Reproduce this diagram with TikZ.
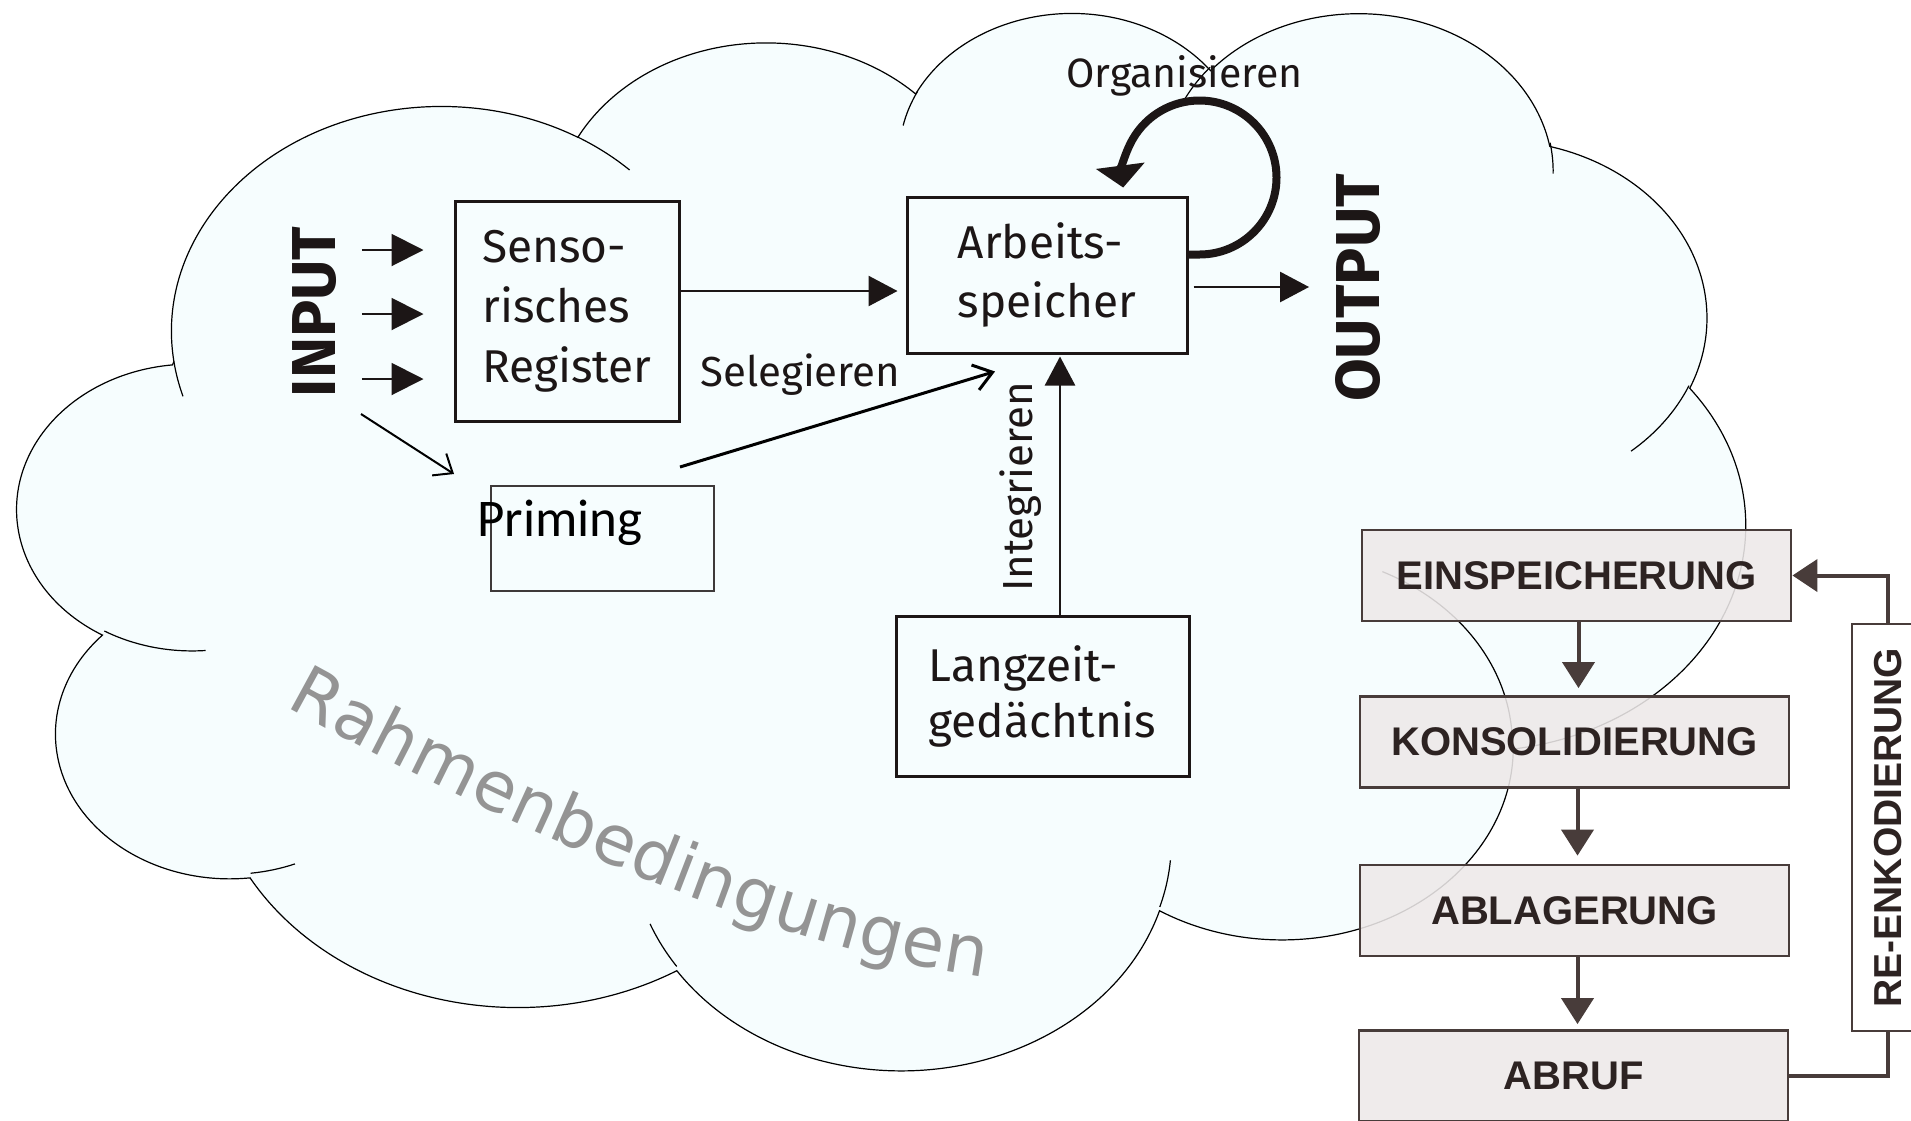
\documentclass[tikz,border=0pt]{standalone}
\usepackage{fontspec}
\setmainfont{Fira Sans}
\newfontfamily\flowfont{Liberation Sans}
\newfontfamily\primfont{Carlito}
\newfontfamily\wordartfont{DejaVu Sans}
\usetikzlibrary{arrows.meta,decorations.text}

\definecolor{cloudfill}{RGB}{246,253,254}
\definecolor{ink}{RGB}{28,22,22}
\definecolor{flowline}{RGB}{72,60,58}
\definecolor{flowfill}{RGB}{237,233,233}
\definecolor{flowtext}{RGB}{45,35,34}
\definecolor{wordartgray}{RGB}{148,148,148}

\tikzset{
  % elliptical arc given like an OOXML arcTo: radii, start and sweep as seen on the ellipse
  warc/.code n args={4}{%
    \pgfmathsetmacro\warcA{atan2((#1)*sin(#3),(#2)*cos(#3))}%
    \pgfmathsetmacro\warcB{atan2((#1)*sin((#3)+(#4)),(#2)*cos((#3)+(#4)))}%
    \pgfmathsetmacro\warcB{ifthenelse(\warcB<\warcA,\warcB+360,\warcB)}%
    \pgfkeysalso{x radius=#1, y radius=#2, start angle=\warcA, end angle=\warcB}},
  cloudline/.style={draw=black, line width=0.6pt},
  box/.style={draw=ink, line width=1.5pt, inner sep=0pt, text=ink,
    font=\fontsize{23}{30}\selectfont},
  inarrow/.style={draw=ink, line width=1pt, -{Triangle[length=16pt,width=16pt]}},
  solidarrow/.style={draw=ink, line width=1.3pt, -{Triangle[length=14.5pt,width=15pt]}},
  openarrow/.style={draw=black, line width=1pt, -{Straight Barb[length=8pt,width=13pt]}},
  openarrowthick/.style={draw=black, line width=1.5pt, -{Straight Barb[length=9pt,width=13pt]}},
  looparrow/.style={draw=ink, line width=4pt, -{Triangle[length=11pt,width=24pt]}},
  flowbox/.style={draw=flowline, line width=1.4pt, fill=flowfill, fill opacity=0.88,
    text opacity=1, minimum width=214.5pt, minimum height=45.5pt, inner sep=0pt,
    text=flowtext, font=\flowfont\bfseries\fontsize{20}{24}\selectfont},
  flowconn/.style={draw=flowline, line width=2pt},
  flowarrow/.style={flowconn, -{Triangle[length=13pt,width=16pt]}},
}

\begin{document}
\begin{tikzpicture}[x=0.5pt, y=-0.5pt]
\useasboundingbox (0,0) rectangle (1911,1120);
\clip (0,0) rectangle (1911,1120);
\fill[white] (0,0) rectangle (1911,1120);

% ---- cloud outline (preset cloud geometry, 432 x 432 units) ----
\begin{scope}[shift={(18,10)}, x=1.99884pt, y=-1.22338pt]
  \path[fill=cloudfill, cloudline] (39,143.70)
    arc[warc={67.53}{91.90}{-190.4875}{123.7805}]
    arc[warc={53.33}{72.67}{-144.1024}{89.9452}]
    arc[warc={43.65}{59.45}{-145.8079}{99.7230}]
    arc[warc={48.57}{65.95}{-130.9861}{117.2417}]
    arc[warc={53.33}{72.73}{-78.7089}{109.0269}]
    arc[warc={67.75}{92.20}{-46.2673}{130.2690}]
    arc[warc={57.85}{78.67}{0.6250}{114.0333}]
    arc[warc={67.52}{92.15}{22.4516}{115.1726}]
    arc[warc={77.20}{105.43}{66.2426}{75.7110}]
    arc[warc={43.60}{59.18}{-274.9421}{146.7356}]
    arc[warc={43.45}{59.45}{-246.8285}{152.5189}]
    -- cycle;
  \path[cloudline]
    (46.93,261.77) arc[warc={43.45}{59.45}{86.7420}{26.4295}]
    (69.28,348.99) arc[warc={43.60}{59.18}{73.6105}{11.4475}]
    (164.78,390.90) arc[warc={67.52}{92.15}{137.6242}{14.0811}]
    (288.27,347.51) arc[warc={67.52}{92.15}{6.4533}{15.9984}]
    (341.29,229.54) arc[warc={57.85}{78.67}{-70.2924}{70.9174}]
    (417.98,153.54) arc[warc={53.33}{72.73}{30.3180}{27.7515}]
    (383.24,54.26) arc[warc={48.57}{65.95}{-13.7443}{14.8589}]
    (290.78,39.52) arc[warc={48.57}{65.95}{-149.1815}{18.1954}]
    (221.41,47.20) arc[warc={43.65}{59.45}{-163.4943}{17.6864}]
    (140.00,51.92) arc[warc={67.53}{91.90}{-66.7070}{12.3194}]
    (41.27,157.89) arc[warc={67.53}{91.90}{157.6544}{11.8582}];
\end{scope}

% ---- arched caption ----
\path[decorate, decoration={text along path, text align=fit to path,
    text={|\wordartfont\fontsize{34.5}{40}\selectfont\color{wordartgray}|Rahmenbedingungen}}]
  (286,706) .. controls (456,800) and (750,945) .. (984,977);

% ---- memory model ----
\node[box, align=left, minimum width=112pt, minimum height=110pt] (sens) at (567,311)
  {Senso-\\risches\\Register};
\node[box, align=left, minimum width=140pt, minimum height=78pt,
  font=\fontsize{23}{29.5}\selectfont] (arb) at (1047,275) {Arbeits-\\speicher};
\node[box, align=left, minimum width=146.5pt, minimum height=80pt,
  font=\fontsize{23}{28}\selectfont] (lzg) at (1042.5,696) {Langzeit-\\gedächtnis};
\node[draw=ink!85, line width=1pt, minimum width=111.5pt, minimum height=52.5pt,
  inner sep=0pt] (prim) at (602.5,538.5) {};
\node[anchor=base west, inner sep=0pt, font=\primfont\fontsize{26.5}{30}\selectfont]
  (primtxt) at (477,536) {Priming};

\node[rotate=90, inner sep=0pt, text=ink, font=\bfseries\fontsize{31}{31}\selectfont]
  (input) at (314.5,312) {INPUT};
\node[rotate=90, inner sep=0pt, text=ink, font=\bfseries\fontsize{31}{31}\selectfont]
  (output) at (1358,288) {OUTPUT};
\node[anchor=base west, inner sep=0pt, text=ink, font=\fontsize{20.5}{24}\selectfont]
  (org) at (1066,87.5) {Organisieren};
\node[anchor=base west, inner sep=0pt, text=ink, font=\fontsize{21}{24}\selectfont]
  (sel) at (700,386) {Selegieren};
\node[rotate=90, anchor=base, inner sep=0pt, text=ink, font=\fontsize{21}{24}\selectfont]
  (integ) at (1032,487) {Integrieren};

% input channels
\foreach \dy [count=\i] in {30.5,-1.5,-34}{
  \coordinate (in\i) at ([yshift=\dy pt]sens.west);
  \draw[inarrow] ([xshift=12.5pt]input.south |- in\i) -- ([xshift=-15pt]in\i);
}
% selection, output, integration
\coordinate (s2a) at ([yshift=10pt]sens.east);
\draw[solidarrow, shorten >=4pt] (s2a) -- (s2a -| arb.west);
\coordinate (a2o) at ([yshift=-6pt]arb.east);
\draw[solidarrow, shorten >=13pt] ([xshift=2.5pt]a2o) -- (a2o -| output.north);
\draw[solidarrow, shorten >=1pt] ([xshift=8.75pt]lzg.north) -- ([xshift=6.5pt]arb.south);
% priming paths
\draw[openarrow] ([shift={(23.25pt,-51pt)}]input.center)
  -- ([shift={(-18pt,5.5pt)}]prim.north west);
\draw[openarrowthick] ([shift={(-17.5pt,9pt)}]prim.north east)
  -- ([shift={(-26pt,-8.5pt)}]arb.south);
% organising loop
\draw[looparrow] ([yshift=-29.5pt]arb.north east) -- ++(5.5pt,0)
  arc[start angle=90, end angle=-187.5, radius=77];

% ---- storage stages ----
\node[flowbox] (eins) at (1576.5,575.5) {EINSPEICHERUNG};
\node[flowbox] (kons) at (1574.5,742) {KONSOLIDIERUNG};
\node[flowbox] (abla) at (1574.5,910.5) {ABLAGERUNG};
\node[flowbox] (abruf) at (1573.5,1076) {ABRUF};
\node[flowbox, fill=white, rotate=90, minimum width=203.5pt, minimum height=36pt,
  font=\flowfont\bfseries\fontsize{19.5}{22}\selectfont] (reenk) at (1888,827.5)
  {RE-ENKODIERUNG};

\draw[flowarrow, shorten >=3.5pt] ([xshift=1pt]eins.south) -- ([xshift=1pt]eins.south |- kons.north);
\draw[flowarrow, shorten >=4pt] ([xshift=1.5pt]kons.south) -- ([xshift=1.5pt]kons.south |- abla.north);
\draw[flowarrow, shorten >=2.5pt] ([xshift=1.5pt]abla.south) -- ([xshift=1.5pt]abla.south |- abruf.north);
\draw[flowconn] (abruf.east) -| (reenk.west);
\draw[flowarrow, -{Triangle[length=12.5pt,width=16pt]}] (reenk.east) |- (eins.east);
\end{tikzpicture}
\end{document}
